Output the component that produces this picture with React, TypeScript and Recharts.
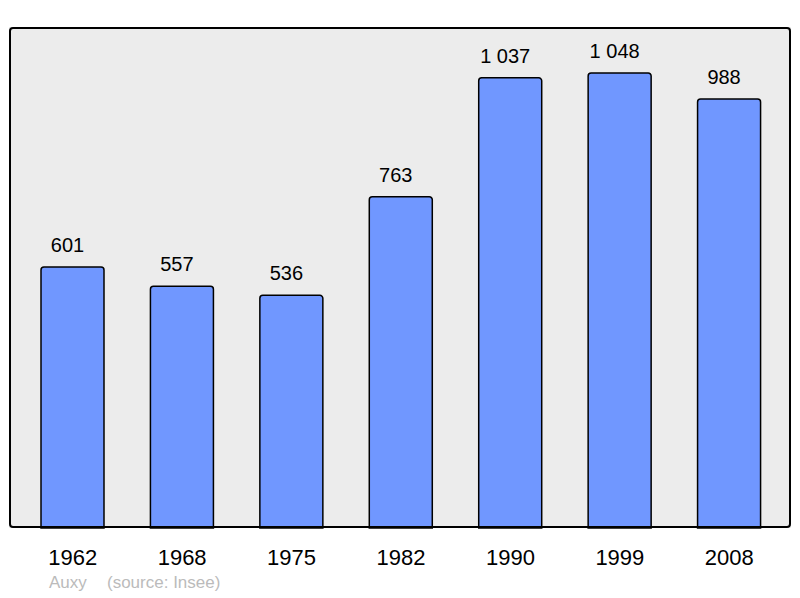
import { Bar, BarChart, CartesianGrid, LabelList, XAxis, YAxis } from "recharts";

const years = ["1962", "1968", "1975", "1982", "1990", "1999", "2008"];
const population = [601, 557, 536, 763, 1037, 1048, 988];

const data = years.map((year, i) => ({ year, value: population[i] }));

const font = '"Liberation Sans", Arial, sans-serif';

// 1037 -> "1 037"
const formatValue = (v: any) => String(v).replace(/\B(?=(\d{3})+(?!\d))/g, " ");

export default function App() {
  return (
    <div style={{ position: "absolute", left: 0, top: 0, width: 800, height: 598, background: "#fff", fontFamily: font }}>
      <BarChart
        width={800}
        height={598}
        data={data}
        margin={{ top: 27, right: 9, left: 9, bottom: 30 }}
        barSize={63}>
        <CartesianGrid fill="#ececec" horizontal={false} vertical={false} />
        <XAxis
          dataKey="year"
          height={40}
          padding={{ left: 9, right: 7 }}
          axisLine={false}
          tickLine={false}
          tickSize={0}
          tickMargin={21}
          tick={{ fill: "#000", fontSize: 22, fontFamily: font }}
        />
        <YAxis hide domain={[0, 1154]} />
        <Bar
          dataKey="value"
          fill="#7097ff"
          stroke="#000"
          strokeWidth={1.5}
          radius={[3, 3, 0, 0]}
          isAnimationActive={false}>
          <LabelList
            dataKey="value"
            position="top"
            offset={15}
            dx={-5}
            formatter={formatValue}
            style={{ fill: "#000", fontSize: 20, fontFamily: font }}
          />
        </Bar>
      </BarChart>
      <div
        style={{
          position: "absolute",
          left: 9,
          top: 27,
          width: 782,
          height: 501,
          boxSizing: "border-box",
          border: "2px solid #000",
          borderRadius: 4,
          pointerEvents: "none",
        }}
      />
      <div style={{ position: "absolute", left: 49, top: 573, fontSize: 17, color: "#bbbbbb", lineHeight: "20px" }}>
        Auxy
      </div>
      <div style={{ position: "absolute", left: 107, top: 573, fontSize: 17, color: "#bbbbbb", lineHeight: "20px" }}>
        (source: Insee)
      </div>
    </div>
  );
}
